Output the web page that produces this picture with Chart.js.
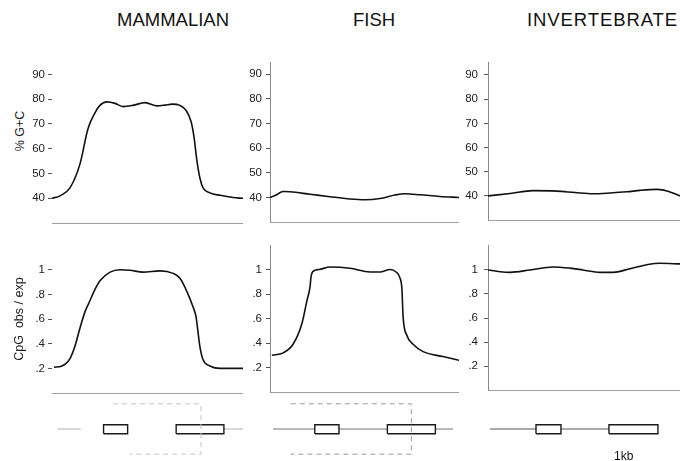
<!DOCTYPE html>
<html>
<head>
<meta charset="utf-8">
<script src="https://cdn.jsdelivr.net/npm/chart.js@4"></script>
<style>
body { margin: 0; background: #fff; }
#page { position: relative; width: 680px; height: 461px; overflow: hidden; background: #fff; font-family: "Liberation Sans", Arial, sans-serif; color: #111; }
canvas { position: absolute; }
.head { position: absolute; top: 9px; font-size: 18.5px; white-space: nowrap; }
.note { position: absolute; font-size: 12px; white-space: nowrap; }
.ytitle { position: absolute; width: 100px; text-align: center; line-height: 16px; font-size: 12.5px; color: #222; transform: rotate(-90deg); white-space: nowrap; }
</style>
</head>
<body>
<div id="page">
  <div class="head" style="left:117px">MAMMALIAN</div>
  <div class="head" style="left:353px">FISH</div>
  <div class="head" style="left:527px;letter-spacing:0.9px">INVERTEBRATE</div>
  <div class="ytitle" style="left:-30px;top:123px">% G+C</div>

  <canvas id="gcMammal" width="243" height="183" style="left:0px;top:50px"></canvas>
  <canvas id="gcFish" width="229" height="183" style="left:230px;top:50px"></canvas>
  <canvas id="gcInvert" width="232" height="183" style="left:448px;top:50px"></canvas>

  <canvas id="cpgMammal" width="243" height="170" style="left:0px;top:233px"></canvas>
  <canvas id="cpgFish" width="229" height="170" style="left:230px;top:233px"></canvas>
  <canvas id="cpgInvert" width="232" height="170" style="left:448px;top:233px"></canvas>

  <canvas id="geneMammal" width="191" height="60" style="left:52px;top:399px"></canvas>
  <canvas id="geneFish" width="189" height="60" style="left:270px;top:399px"></canvas>
  <canvas id="geneInvert" width="192" height="60" style="left:488px;top:399px"></canvas>

  <div class="note" style="left:614px;top:449px">1kb</div>
</div>

<script>
// positions along each region run 0..100
const gcTicks = [40, 50, 60, 70, 80, 90];
const gcTickText = ['40', '50', '60', '70', '80', '90'];
const cpgTicks = [0.2, 0.4, 0.6, 0.8, 1];
const cpgTickText = ['.2', '.4', '.6', '.8', '1'];

const mammalGcPos = [0, 4.2, 9.4, 14.7, 18.8, 22.5, 25.1, 28.8, 33, 37.2, 42.4, 48.7, 55, 59.2, 62.8, 67, 70.2, 72.8, 74.3, 75.9, 77.5, 79.1, 82.7, 88, 94.8, 100];
const mammalGc = [40, 41, 44.2, 54, 68, 74.5, 77.5, 78.9, 78.3, 77, 77.5, 78.6, 77.3, 77.6, 78, 77.5, 75.5, 71, 65, 55, 48, 44.2, 42.2, 41.2, 40.3, 40];

const fishGcPos = [0, 3.2, 6.9, 10.6, 21.2, 31.7, 42.3, 50.3, 58.2, 66.1, 71.4, 79.4, 89.9, 100];
const fishGc = [40, 41, 42.4, 42.3, 41.3, 40.3, 39.4, 39.1, 39.6, 41, 41.5, 41.1, 40.4, 40];

const invertGcPos = [0, 11.5, 23.4, 35.9, 45.3, 54.7, 63.5, 72.4, 79.2, 88, 91.5, 94.8, 100];
const invertGc = [40, 41, 42.2, 42, 41.4, 40.9, 41.2, 41.7, 42.3, 42.7, 42.4, 41.6, 40];

const mammalCpgPos = [1, 5.2, 9.4, 12, 14.7, 17.3, 19.9, 22.5, 25.1, 30.4, 35.6, 40.8, 47.6, 56.5, 63.4, 67, 70.7, 73.8, 75.4, 76.4, 77.5, 79.1, 82.7, 88, 100];
const mammalCpg = [0.21, 0.22, 0.28, 0.38, 0.53, 0.66, 0.75, 0.84, 0.91, 0.98, 1.0, 0.995, 0.98, 0.99, 0.97, 0.93, 0.82, 0.7, 0.62, 0.5, 0.37, 0.27, 0.22, 0.2, 0.2];

const fishCpgPos = [1, 7, 12.2, 16.9, 19.6, 21.2, 21.7, 23.3, 26, 31.7, 42.3, 52.9, 58.2, 63.5, 66.7, 68.8, 69.8, 70.4, 72.5, 75.7, 81, 91.5, 100];
const fishCpg = [0.3, 0.32, 0.39, 0.56, 0.75, 0.86, 0.94, 0.99, 1.0, 1.02, 1.01, 0.98, 0.98, 1.0, 0.98, 0.93, 0.84, 0.62, 0.46, 0.39, 0.33, 0.29, 0.26];

const invertCpgPos = [0, 6.3, 11.5, 21.9, 33.9, 42.7, 49.5, 58.3, 65.1, 74, 83.3, 89.6, 100];
const invertCpg = [1.0, 0.985, 0.98, 1.0, 1.025, 1.015, 1.0, 0.98, 0.98, 1.01, 1.045, 1.055, 1.05];

// gene maps: exons [start, end], intron runs, bracket outline [x, y]
const mammalExons = [[27, 39.6], [65, 90]];
const mammalIntrons = [[3, 15], [90, 100]];
const mammalBracket = [[32, 9.2], [78, 9.2], [78, 0.8], [41, 0.8]];

const fishExons = [[23.7, 36.5], [62.1, 87.5]];
const fishIntrons = [[1.6, 96.8]];
const fishBracket = [[11, 9.2], [74.8, 9.2], [74.8, 0.8], [11, 0.8]];

const invertExons = [[25, 38], [63, 88.5]];
const invertIntrons = [[1, 88.5]];

const exonLow = 4.2;
const exonHigh = 5.7;
const intronLevel = 5;


function createProfile(id, axisWidth, labelPad, xs, ys, yMin, yMax, ticks, tickText, title, axisLine)
{
    const config =
    {
        type: 'line',
        data:
        {
            datasets:
            [{
                data: xs.map((x, i) => ({ x: x, y: ys[i] })),
                borderColor: '#111',
                borderWidth: 1.6,
                pointRadius: 0,
                cubicInterpolationMode: 'monotone',
                fill: false
            }]
        },
        options:
        {
            responsive: false,
            animation: false,
            events: [],
            layout: { padding: { top: 12, bottom: 0, left: 0, right: 0 } },
            plugins: { legend: { display: false }, tooltip: { enabled: false } },
            scales:
            {
                x:
                {
                    type: 'linear',
                    min: 0,
                    max: 100,
                    ticks: { display: false },
                    grid: { display: false },
                    border: { color: '#a0a0a0', width: 1 },
                    afterFit: (s) => { s.height = 0; }
                },
                y:
                {
                    min: yMin,
                    max: yMax,
                    afterBuildTicks: (s) => { s.ticks = ticks.map(v => ({ value: v })); },
                    afterFit: (s) => { s.width = axisWidth; },
                    ticks:
                    {
                        padding: labelPad,
                        color: '#222',
                        font: { family: 'Liberation Sans', size: 11.5 },
                        callback: (v, i) => tickText[i]
                    },
                    grid: { drawOnChartArea: false, tickLength: 4, color: '#555' },
                    border: { display: axisLine, color: '#888', width: 1 },
                    title:
                    {
                        display: !!title,
                        text: title,
                        color: '#222',
                        font: { family: 'Liberation Sans', size: 12.5 },
                        padding: { top: 12, bottom: 0 }
                    }
                }
            }
        }
    };
    new Chart(document.getElementById(id), config);
}


function createGene(id, exons, introns, bracket, bracketColor, intronColor)
{
    const datasets = [];
    if (bracket)
    {
        datasets.push({
            data: bracket.map(p => ({ x: p[0], y: p[1] })),
            borderColor: bracketColor,
            borderWidth: 1,
            borderDash: [5, 4]
        });
    }
    exons.forEach(e => {
        datasets.push({
            data: [
                { x: e[0], y: exonLow }, { x: e[1], y: exonLow },
                { x: e[1], y: exonHigh }, { x: e[0], y: exonHigh },
                { x: e[0], y: exonLow }
            ],
            borderColor: '#1a1a1a',
            borderWidth: 1.4,
            backgroundColor: '#fff',
            fill: 'shape'
        });
    });
    introns.forEach(r => {
        datasets.push({
            data: [{ x: r[0], y: intronLevel }, { x: r[1], y: intronLevel }],
            borderColor: intronColor,
            borderWidth: 1
        });
    });
    datasets.forEach(d => { d.showLine = true; d.pointRadius = 0; });

    new Chart(document.getElementById(id), {
        type: 'scatter',
        data: { datasets: datasets },
        options:
        {
            responsive: false,
            animation: false,
            events: [],
            layout: { padding: 0 },
            plugins: { legend: { display: false }, tooltip: { enabled: false } },
            scales:
            {
                x: { type: 'linear', min: 0, max: 100, display: false },
                y: { type: 'linear', min: 0, max: 10, display: false }
            }
        }
    });
}


createProfile('gcMammal', 52, 3, mammalGcPos, mammalGc, 30, 95, gcTicks, gcTickText, '', false);
createProfile('gcFish', 40, 4, fishGcPos, fishGc, 30, 95, gcTicks, gcTickText, '', true);
createProfile('gcInvert', 40, 6, invertGcPos, invertGc, 30, 95, gcTicks, gcTickText, '', true);

createProfile('cpgMammal', 52, 3, mammalCpgPos, mammalCpg, 0, 1.2, cpgTicks, cpgTickText, 'CpG  obs / exp', false);
createProfile('cpgFish', 40, 4, fishCpgPos, fishCpg, 0, 1.2, cpgTicks, cpgTickText, '', true);
createProfile('cpgInvert', 40, 6, invertCpgPos, invertCpg, 0, 1.2, cpgTicks, cpgTickText, '', true);

createGene('geneMammal', mammalExons, mammalIntrons, mammalBracket, '#c4c4c4', '#b0b0b0');
createGene('geneFish', fishExons, fishIntrons, fishBracket, '#9a9a9a', '#777');
createGene('geneInvert', invertExons, invertIntrons, null, '', '#555');
</script>
</body>
</html>
